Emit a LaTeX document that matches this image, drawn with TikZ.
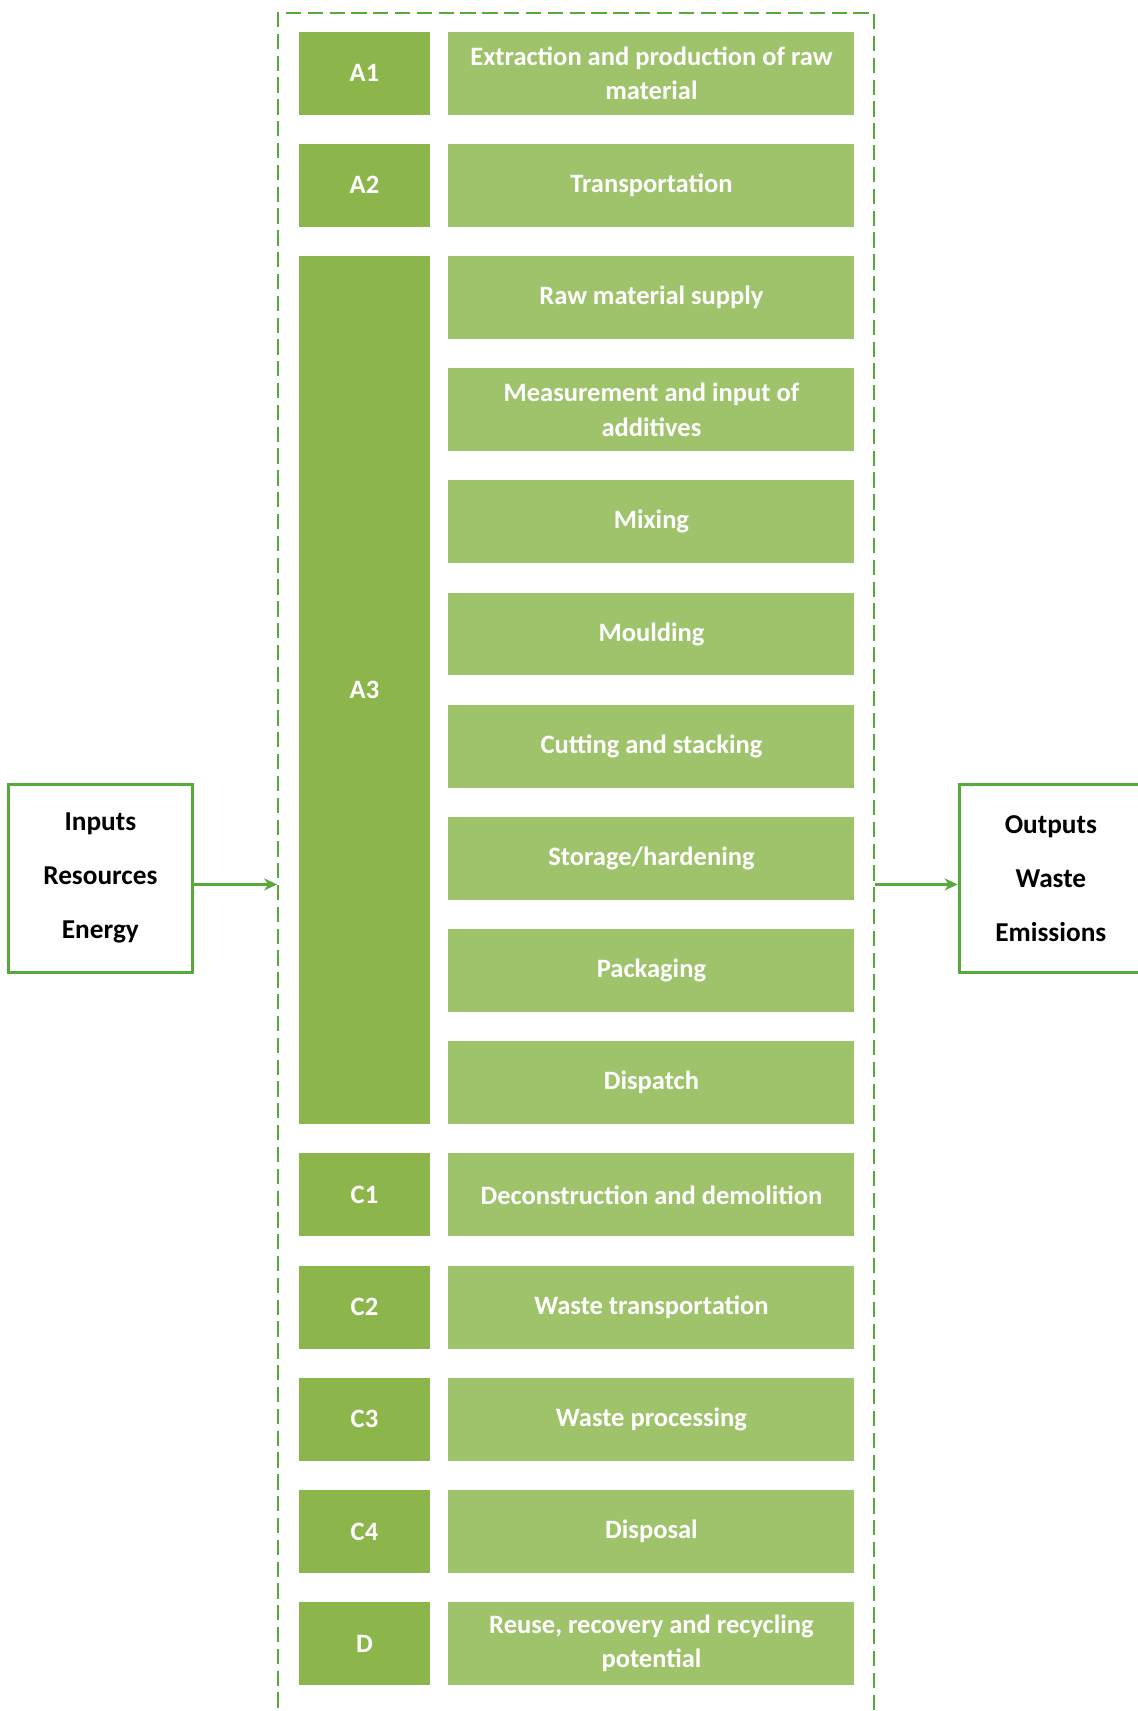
\documentclass[tikz,border=0pt]{standalone}
\usepackage{fontspec}
\setmainfont{Carlito}
\usetikzlibrary{arrows.meta,positioning}
\definecolor{stagegreen}{HTML}{8CB64C}
\definecolor{stepgreen}{HTML}{9FC36B}
\definecolor{linegreen}{HTML}{55AA3A}

\begin{document}
\begin{tikzpicture}[x=1pt,y=-1pt,
      stage_box/.style={
         rectangle,
         fill=stagegreen,
         text=white,
         inner sep=0pt,
         outer sep=0pt,
         minimum width=120pt,
         minimum height=76pt,
         font=\bfseries\fontsize{24.3}{31.5}\selectfont},
      step_box/.style={
         rectangle,
         fill=stepgreen,
         text=white,
         align=center,
         inner sep=0pt,
         outer sep=0pt,
         minimum width=372pt,
         minimum height=76pt,
         font=\bfseries\fontsize{24.3}{31.5}\selectfont},
      io_box/.style={
         rectangle,
         draw=linegreen,
         line width=2.8pt,
         align=center,
         inner sep=0pt,
         minimum width=168pt,
         minimum height=172pt,
         font=\bfseries\fontsize{25}{49.5}\selectfont},
      frame_dash/.style={
         rectangle,
         draw=linegreen,
         line width=2pt,
         dash pattern=on 14pt off 6pt},
      arrow_green/.style={
         -{Stealth[length=12pt,width=11pt]},
         draw=linegreen,
         fill=linegreen,
         line width=3pt}
]
      \useasboundingbox (0,0) rectangle (1042,1568);

      %system boundary
      \node[frame_dash,anchor=north west,minimum width=546pt,minimum height=1569pt] (frame) at (254,11) {};

      %process steps
      \node[step_box] (s1) at (597,67) {Extraction and production of raw\\material};
      \foreach \i/\txt [remember=\i as \prev (initially 1)] in {% number/text
        2/Transportation,
        3/Raw material supply,
        4/{Measurement and input of\\additives},
        5/Mixing,
        6/Moulding,
        7/Cutting and stacking,
        8/{Storage/hardening},
        9/Packaging,
        10/Dispatch,
        11/Deconstruction and demolition,
        12/Waste transportation,
        13/Waste processing,
        14/Disposal,
        15/{Reuse, recovery and recycling\\potential}}
      \node[step_box,below=26.8pt of s\prev] (s\i) {\txt};

      %modules
      \foreach \i/\txt in {1/A1,2/A2,11/C1,12/C2,13/C3,14/C4,15/D}
      \node[stage_box,left=17pt of s\i] (m\i) {\txt};
      \node[stage_box,anchor=north east,minimum height=795.6pt] (m3) at ([xshift=-17pt]s3.north west) {A3};

      %inputs and outputs
      \node[io_box] (in) at (92,805) {Inputs\\Resources\\Energy};
      \node[io_box] (out) at (963,805) {Outputs\\Waste\\Emissions};

      \draw[arrow_green] ([yshift=-5.5pt]in.east) -- ([yshift=-5.5pt]in.east -| frame.west);
      \draw[arrow_green] ([yshift=-5.5pt]out.west -| frame.east) -- ([yshift=-5.5pt]out.west);
\end{tikzpicture}
\end{document}
